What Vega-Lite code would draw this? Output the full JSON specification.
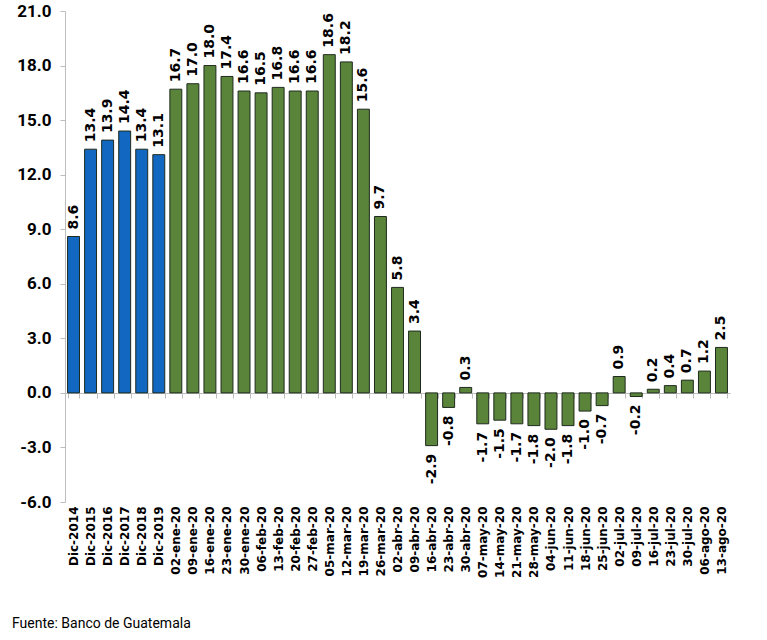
{
  "$schema": "https://vega.github.io/schema/vega-lite/v6.json",
  "description": "Variación interanual, barras históricas y semanales",
  "width": 665,
  "height": 491,
  "autosize": "none",
  "padding": {"left": 65, "top": 11, "right": 37, "bottom": 138},
  "background": "white",
  "title": {
    "text": "Fuente: Banco de Guatemala",
    "orient": "bottom",
    "anchor": "start",
    "frame": "group",
    "dx": -53,
    "offset": 40,
    "font": "Roboto",
    "fontSize": 14,
    "fontWeight": "normal",
    "color": "#000000"
  },
  "data": {
    "values": [
      {"fecha": "Dic-2014", "valor": 8.6, "grupo": "anual"},
      {"fecha": "Dic-2015", "valor": 13.4, "grupo": "anual"},
      {"fecha": "Dic-2016", "valor": 13.9, "grupo": "anual"},
      {"fecha": "Dic-2017", "valor": 14.4, "grupo": "anual"},
      {"fecha": "Dic-2018", "valor": 13.4, "grupo": "anual"},
      {"fecha": "Dic-2019", "valor": 13.1, "grupo": "anual"},
      {"fecha": "02-ene-20", "valor": 16.7, "grupo": "semanal"},
      {"fecha": "09-ene-20", "valor": 17.0, "grupo": "semanal"},
      {"fecha": "16-ene-20", "valor": 18.0, "grupo": "semanal"},
      {"fecha": "23-ene-20", "valor": 17.4, "grupo": "semanal"},
      {"fecha": "30-ene-20", "valor": 16.6, "grupo": "semanal"},
      {"fecha": "06-feb-20", "valor": 16.5, "grupo": "semanal"},
      {"fecha": "13-feb-20", "valor": 16.8, "grupo": "semanal"},
      {"fecha": "20-feb-20", "valor": 16.6, "grupo": "semanal"},
      {"fecha": "27-feb-20", "valor": 16.6, "grupo": "semanal"},
      {"fecha": "05-mar-20", "valor": 18.6, "grupo": "semanal"},
      {"fecha": "12-mar-20", "valor": 18.2, "grupo": "semanal"},
      {"fecha": "19-mar-20", "valor": 15.6, "grupo": "semanal"},
      {"fecha": "26-mar-20", "valor": 9.7, "grupo": "semanal"},
      {"fecha": "02-abr-20", "valor": 5.8, "grupo": "semanal"},
      {"fecha": "09-abr-20", "valor": 3.4, "grupo": "semanal"},
      {"fecha": "16-abr-20", "valor": -2.9, "grupo": "semanal"},
      {"fecha": "23-abr-20", "valor": -0.8, "grupo": "semanal"},
      {"fecha": "30-abr-20", "valor": 0.3, "grupo": "semanal"},
      {"fecha": "07-may-20", "valor": -1.7, "grupo": "semanal"},
      {"fecha": "14-may-20", "valor": -1.5, "grupo": "semanal"},
      {"fecha": "21-may-20", "valor": -1.7, "grupo": "semanal"},
      {"fecha": "28-may-20", "valor": -1.8, "grupo": "semanal"},
      {"fecha": "04-jun-20", "valor": -2.0, "grupo": "semanal"},
      {"fecha": "11-jun-20", "valor": -1.8, "grupo": "semanal"},
      {"fecha": "18-jun-20", "valor": -1.0, "grupo": "semanal"},
      {"fecha": "25-jun-20", "valor": -0.7, "grupo": "semanal"},
      {"fecha": "02-jul-20", "valor": 0.9, "grupo": "semanal"},
      {"fecha": "09-jul-20", "valor": -0.2, "grupo": "semanal"},
      {"fecha": "16-jul-20", "valor": 0.2, "grupo": "semanal"},
      {"fecha": "23-jul-20", "valor": 0.4, "grupo": "semanal"},
      {"fecha": "30-jul-20", "valor": 0.7, "grupo": "semanal"},
      {"fecha": "06-ago-20", "valor": 1.2, "grupo": "semanal"},
      {"fecha": "13-ago-20", "valor": 2.5, "grupo": "semanal"}
    ]
  },
  "encoding": {
    "x": {
      "field": "fecha",
      "type": "nominal",
      "sort": null,
      "scale": {"paddingInner": 0.3, "paddingOuter": 0.15},
      "axis": {
        "title": null,
        "orient": "bottom",
        "offset": -109,
        "tickBand": "extent",
        "domainColor": "#bdbdbd",
        "tickColor": "#bdbdbd",
        "tickSize": 5,
        "labelAngle": -90,
        "labelPadding": 108,
        "labelFont": "DejaVu Sans",
        "labelFontWeight": "bold",
        "labelFontSize": 12,
        "labelColor": "#000000",
        "labelOverlap": false
      }
    },
    "y": {
      "field": "valor",
      "type": "quantitative",
      "scale": {"domain": [-6, 21], "nice": false, "zero": false},
      "axis": {
        "title": null,
        "values": [-6, -3, 0, 3, 6, 9, 12, 15, 18, 21],
        "format": ".1f",
        "labelExpr": "replace(datum.label, '\u2212', '-')",
        "grid": false,
        "domainColor": "#bdbdbd",
        "tickColor": "#bdbdbd",
        "tickSize": 5,
        "labelPadding": 9,
        "labelFont": "Roboto",
        "labelFontWeight": "bold",
        "labelFontSize": 17,
        "labelColor": "#000000"
      }
    }
  },
  "layer": [
    {
      "mark": {"type": "bar", "stroke": "#1e2a1e", "strokeWidth": 1},
      "encoding": {
        "color": {
          "field": "grupo",
          "type": "nominal",
          "scale": {"domain": ["anual", "semanal"], "range": ["#1268c0", "#5a843a"]},
          "legend": null
        }
      }
    },
    {
      "transform": [
        {"filter": "datum.valor >= 0"},
        {"calculate": "format(datum.valor, '.1f')", "as": "etiqueta"}
      ],
      "mark": {"type": "text", "angle": 270, "align": "left", "baseline": "middle", "dx": 7, "font": "DejaVu Sans", "fontWeight": "bold", "fontSize": 14, "color": "#000000"},
      "encoding": {"text": {"field": "etiqueta", "type": "nominal"}}
    },
    {
      "transform": [
        {"filter": "datum.valor < 0"},
        {"calculate": "replace(format(datum.valor, '.1f'), '\u2212', '-')", "as": "etiqueta"}
      ],
      "mark": {"type": "text", "angle": 270, "align": "right", "baseline": "middle", "dx": -8, "font": "DejaVu Sans", "fontWeight": "bold", "fontSize": 14, "color": "#000000"},
      "encoding": {"text": {"field": "etiqueta", "type": "nominal"}}
    }
  ],
  "config": {
    "view": {"stroke": null}
  }
}
